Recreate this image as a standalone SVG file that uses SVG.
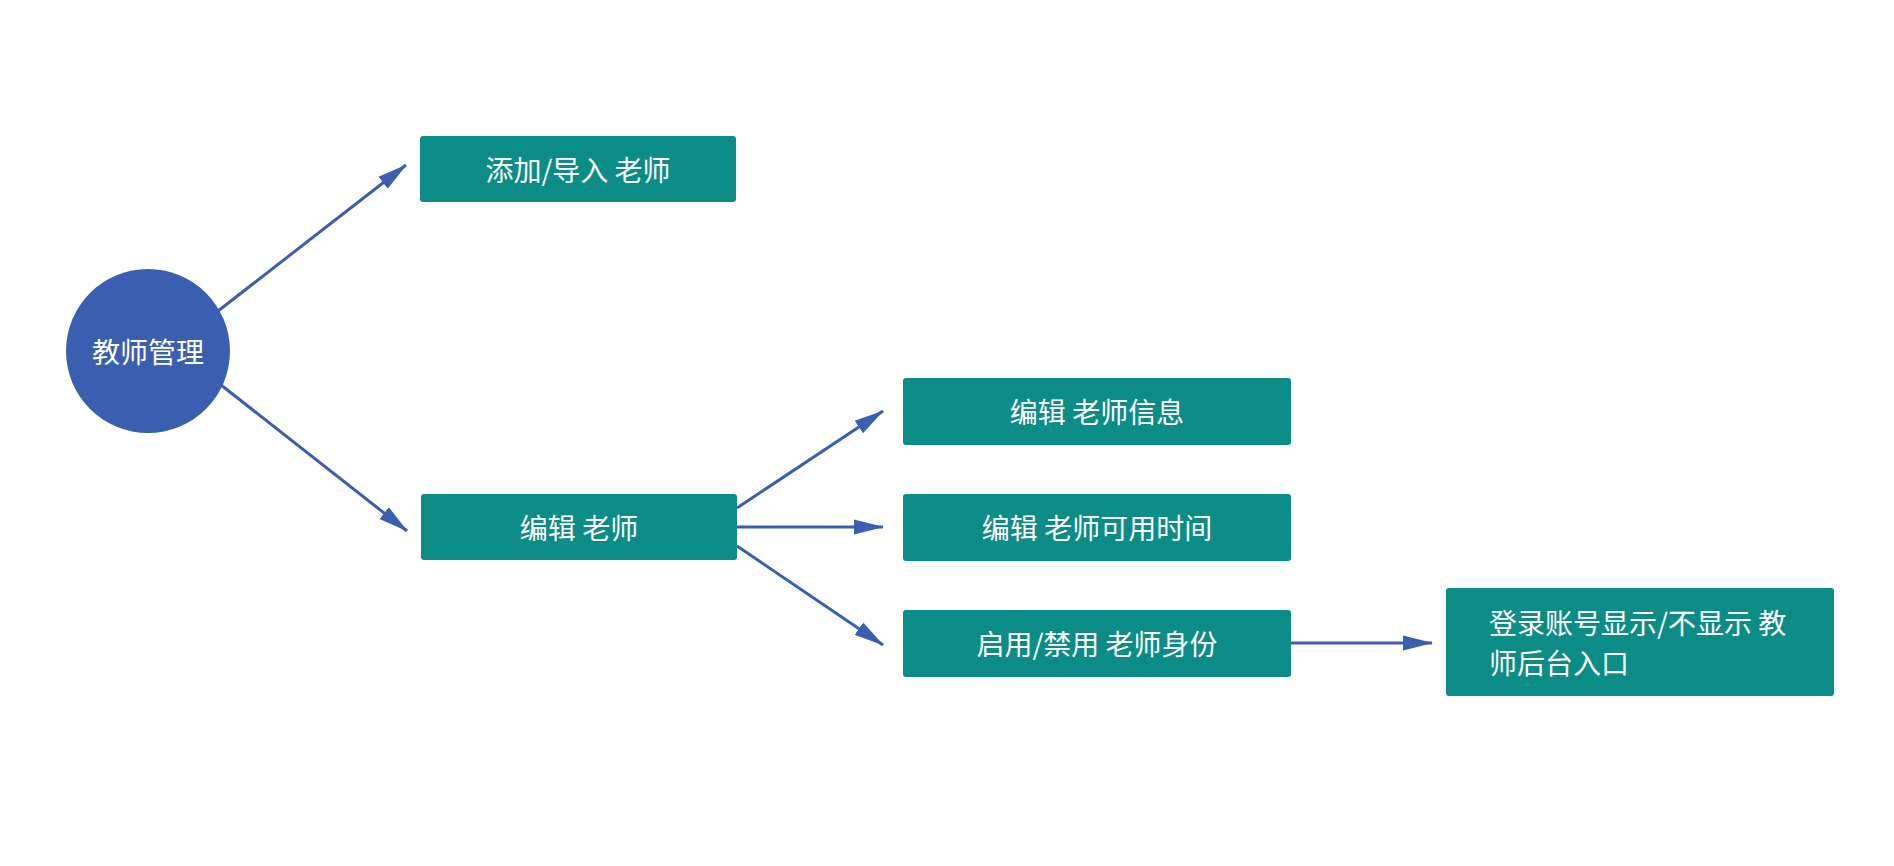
<svg xmlns="http://www.w3.org/2000/svg" width="1894" height="866" viewBox="0 0 1894 866">
<style>
.box{fill:#0b8c86;}
.t{font-family:"Noto Sans CJK SC","Noto Sans",sans-serif;font-size:28px;fill:#ffffff;}
.c{text-anchor:middle;dominant-baseline:central;}
.e{stroke:#3a5fb0;stroke-width:3;fill:none;marker-end:url(#ah);}
</style>
<defs>
<marker id="ah" viewBox="0 0 30 16" refX="29" refY="8" markerWidth="30" markerHeight="16" markerUnits="userSpaceOnUse" orient="auto">
<path d="M0,0.5 L30,8 L0,15.5 Z" fill="#3a5fb0"/>
</marker>
</defs>
<rect width="1894" height="866" fill="#ffffff"/>
<g id="connectors">
<line class="e" x1="218" y1="311" x2="406" y2="165"/>
<line class="e" x1="221" y1="385" x2="407" y2="531"/>
<line class="e" x1="737" y1="508" x2="883" y2="411"/>
<line class="e" x1="737" y1="527" x2="883" y2="527"/>
<line class="e" x1="737" y1="546" x2="883" y2="645"/>
<line class="e" x1="1290" y1="643" x2="1432" y2="643"/>
</g>
<g id="n0">
<circle cx="148" cy="351" r="82" fill="#3a5eb0"/>
<text class="t c" x="148" y="351">教师管理</text>
</g>
<g id="n1">
<rect class="box" x="420" y="136" width="316" height="66" rx="3"/>
<text class="t c" x="578" y="169">添加/导入 老师</text>
</g>
<g id="n2">
<rect class="box" x="421" y="494" width="316" height="66" rx="3"/>
<text class="t c" x="579" y="527">编辑 老师</text>
</g>
<g id="n3">
<rect class="box" x="903" y="378" width="388" height="67" rx="3"/>
<text class="t c" x="1097" y="411">编辑 老师信息</text>
</g>
<g id="n4">
<rect class="box" x="903" y="494" width="388" height="67" rx="3"/>
<text class="t c" x="1097" y="527">编辑 老师可用时间</text>
</g>
<g id="n5">
<rect class="box" x="903" y="610" width="388" height="67" rx="3"/>
<text class="t c" x="1097" y="643">启用/禁用 老师身份</text>
</g>
<g id="n6">
<rect class="box" x="1446" y="588" width="388" height="108" rx="3"/>
<text class="t" x="1489" y="634">登录账号显示/不显示 教</text>
<text class="t" x="1489" y="674">师后台入口</text>
</g>
</svg>
